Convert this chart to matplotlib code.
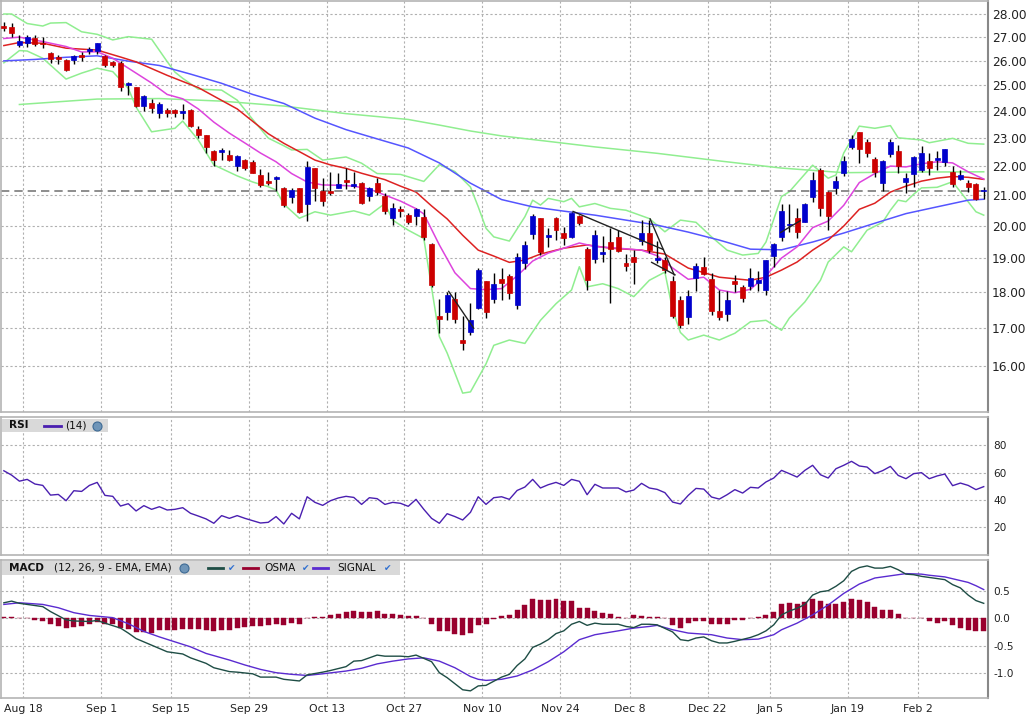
import matplotlib
matplotlib.use("Agg")
import matplotlib.pyplot as plt
from matplotlib.patches import Rectangle
from matplotlib.lines import Line2D
from matplotlib.ticker import FixedLocator, NullLocator

W, H = 1034, 723

# ---------------- data ----------------
date_labels = ["Aug 18", "Sep 1", "Sep 15", "Sep 29", "Oct 13", "Oct 27", "Nov 10",
               "Nov 24", "Dec 8", "Dec 22", "Jan 5", "Jan 19", "Feb 2"]
date_first_bar = [3, 13, 22, 32, 42, 52, 62, 72, 81, 91, 99, 109, 118]

opens = [27.47, 27.42, 26.65, 26.73, 26.94, 26.76, 26.33, 26.17, 26.03, 26.03,
         26.24, 26.41, 26.41, 26.20, 25.96, 25.92, 25.02, 24.92, 24.19, 24.30,
         23.94, 24.03, 24.03, 23.94, 24.03, 23.33, 23.09, 22.52, 22.49, 22.38,
         21.99, 22.20, 22.14, 21.67, 21.47, 21.55, 21.25, 20.93, 21.24, 20.70,
         21.91, 21.14, 21.14, 21.25, 21.50, 21.31, 21.39, 20.97, 21.42, 20.97,
         20.26, 20.53, 20.35, 20.31, 20.27, 19.43, 17.33, 17.44, 17.80, 16.67,
         16.90, 17.55, 18.31, 17.79, 18.39, 18.46, 17.64, 18.86, 19.73, 20.24,
         19.66, 20.24, 19.76, 19.66, 20.32, 19.26, 18.96, 19.11, 19.48, 19.64,
         18.84, 19.02, 19.53, 19.76, 18.95, 18.94, 18.33, 17.78, 17.30, 18.41,
         18.73, 18.38, 17.48, 17.38, 18.33, 18.16, 18.17, 18.26, 18.06, 19.07,
         19.66, 20.02, 20.24, 20.13, 20.92, 21.87, 21.09, 21.22, 21.74, 22.67,
         23.20, 22.83, 22.23, 21.39, 22.40, 22.52, 21.45, 21.71, 21.87, 22.16,
         22.19, 22.14, 21.77, 21.53, 21.41, 21.37, 21.12]
highs = [27.65, 27.60, 27.07, 27.07, 27.07, 26.98, 26.37, 26.24, 26.06, 26.24,
         26.37, 26.57, 26.76, 26.24, 26.00, 25.99, 25.14, 24.94, 24.62, 24.46,
         24.34, 24.10, 24.06, 24.27, 24.07, 23.43, 23.11, 22.56, 22.62, 22.56,
         22.38, 22.24, 22.20, 21.88, 21.77, 21.65, 21.28, 21.22, 21.24, 22.16,
         21.93, 21.59, 21.77, 21.74, 21.93, 21.79, 21.45, 21.28, 21.58, 21.07,
         20.73, 20.65, 20.40, 20.57, 20.53, 19.45, 17.80, 18.00, 18.00, 17.33,
         17.68, 18.69, 18.31, 18.54, 18.71, 18.51, 19.14, 19.53, 20.37, 20.24,
         19.92, 20.27, 19.95, 20.45, 20.34, 19.35, 19.87, 19.68, 19.92, 19.87,
         19.11, 19.24, 20.19, 20.19, 19.53, 19.04, 18.48, 17.88, 18.07, 18.84,
         19.02, 18.54, 18.06, 18.04, 18.49, 18.19, 18.69, 18.61, 18.94, 19.47,
         20.72, 20.70, 20.57, 20.75, 21.80, 21.91, 21.14, 21.63, 22.34, 23.12,
         23.22, 22.94, 22.30, 22.20, 22.95, 22.73, 21.75, 22.34, 22.70, 22.44,
         22.53, 22.60, 21.99, 21.85, 21.52, 21.39, 21.28]
lows = [27.27, 27.00, 26.57, 26.57, 26.61, 26.51, 25.89, 25.86, 25.58, 25.86,
        26.00, 26.27, 26.27, 25.75, 25.75, 24.79, 24.60, 24.14, 24.01, 23.94,
        23.75, 23.79, 23.76, 23.69, 23.39, 23.00, 22.46, 21.99, 22.20, 22.17,
        21.83, 21.86, 21.74, 21.28, 21.34, 21.14, 20.60, 20.75, 20.40, 20.16,
        20.80, 20.64, 21.00, 21.22, 21.20, 21.22, 20.70, 20.80, 21.00, 20.38,
        20.02, 20.27, 20.05, 20.04, 19.55, 18.15, 16.87, 17.22, 17.13, 16.41,
        16.82, 17.51, 17.28, 17.70, 17.77, 17.79, 17.53, 18.66, 19.57, 19.09,
        19.35, 19.55, 19.40, 19.60, 20.03, 18.07, 18.85, 18.89, 17.70, 19.19,
        18.60, 18.24, 19.40, 19.14, 18.84, 18.55, 17.27, 17.00, 17.10, 18.04,
        18.49, 17.36, 17.23, 17.18, 18.00, 17.73, 18.07, 18.04, 17.91, 18.73,
        19.53, 19.81, 19.61, 20.11, 20.77, 20.30, 19.88, 21.04, 21.66, 22.60,
        22.10, 22.32, 21.60, 21.14, 22.30, 21.74, 21.08, 21.28, 21.80, 21.67,
        21.87, 21.99, 21.26, 21.50, 21.11, 20.83, 20.86]
closes = [27.40, 27.18, 26.83, 26.98, 26.69, 26.69, 26.08, 26.08, 25.61, 26.19,
          26.14, 26.48, 26.73, 25.82, 25.80, 24.92, 25.10, 24.19, 24.58, 24.12,
          24.27, 23.94, 23.94, 24.00, 23.42, 23.12, 22.67, 22.20, 22.56, 22.20,
          22.34, 21.91, 21.74, 21.34, 21.40, 21.61, 20.67, 21.16, 20.43, 21.97,
          21.24, 20.80, 21.08, 21.37, 21.44, 21.37, 20.73, 21.22, 21.11, 20.46,
          20.57, 20.48, 20.11, 20.53, 19.64, 18.20, 17.24, 17.91, 17.24, 16.59,
          17.21, 18.64, 17.44, 18.22, 18.25, 17.96, 19.02, 19.40, 20.31, 19.19,
          19.71, 19.88, 19.60, 20.40, 20.10, 18.36, 19.71, 19.19, 19.26, 19.22,
          18.76, 18.89, 19.76, 19.24, 18.99, 18.64, 17.34, 17.07, 17.88, 18.75,
          18.52, 17.46, 17.31, 17.77, 18.22, 17.83, 18.42, 18.36, 18.94, 19.43,
          20.48, 20.07, 19.81, 20.72, 21.50, 20.57, 20.32, 21.47, 22.16, 22.94,
          22.60, 22.44, 21.77, 22.16, 22.85, 22.00, 21.58, 22.30, 22.44, 21.91,
          22.29, 22.60, 21.36, 21.67, 21.28, 20.87, 21.16]
last_price = 21.15

# indicator lines: (bar index, value)
ma_long_blue = [(0, 25.99), (4, 26.05), (8, 26.14), (12, 26.20), (16, 25.98), (20, 25.80),
                (24, 25.45), (28, 25.08), (32, 24.64), (36, 24.29), (40, 23.73), (44, 23.30),
                (48, 22.96), (52, 22.63), (56, 22.10), (60, 21.40), (64, 20.85), (68, 20.61),
                (72, 20.47), (76, 20.34), (80, 20.18), (84, 20.02), (88, 19.80), (92, 19.55),
                (96, 19.27), (100, 19.25), (104, 19.49), (108, 19.77), (112, 20.08),
                (116, 20.39), (120, 20.61), (124, 20.83), (126, 20.86)]
ma_200_green = [(2, 24.25), (12, 24.46), (20, 24.48), (28, 24.38), (36, 24.19), (44, 23.90),
                (52, 23.68), (56, 23.47), (60, 23.25), (64, 23.07), (70, 22.87), (76, 22.67),
                (84, 22.44), (92, 22.17), (100, 21.92), (108, 21.76), (116, 21.78), (126, 21.79)]
ma_mid_red = [(0, 26.63), (2, 26.76), (5, 26.73), (8, 26.52), (12, 26.44), (15, 26.15),
              (17, 25.95), (21, 25.40), (25, 24.91), (30, 24.08), (34, 23.15), (36, 22.80),
              (38, 22.50), (40, 22.20), (42, 22.03), (44, 21.91), (46, 21.74), (49, 21.52),
              (51, 21.30), (53, 21.10), (55, 20.64), (57, 20.22), (59, 19.70), (61, 19.24),
              (63, 19.06), (65, 18.87), (67, 18.94), (69, 19.12), (72, 19.30), (75, 19.40),
              (78, 19.30), (82, 19.24), (85, 19.12), (88, 18.70), (92, 18.43), (96, 18.34),
              (98, 18.43), (100, 18.64), (102, 18.88), (104, 19.24), (106, 19.55),
              (108, 19.99), (110, 20.53), (112, 20.73), (114, 21.10), (116, 21.30),
              (118, 21.47), (120, 21.57), (122, 21.63), (124, 21.60), (126, 21.53)]
ma_short_magenta = [(0, 26.93), (2, 26.99), (5, 26.80), (8, 26.59), (10, 26.36), (12, 26.37),
                    (14, 26.10), (17, 25.49), (19, 25.09), (21, 24.64), (23, 24.47),
                    (25, 24.08), (27, 23.58), (29, 23.17), (31, 22.81), (33, 22.45),
                    (35, 22.14), (37, 21.73), (39, 21.44), (41, 21.34), (43, 21.33),
                    (45, 21.30), (47, 21.20), (49, 21.00), (51, 20.80), (53, 20.55),
                    (54, 20.38), (56, 19.40), (58, 18.56), (60, 18.10), (62, 18.07),
                    (64, 18.10), (66, 18.47), (68, 18.91), (70, 19.15), (72, 19.30),
                    (74, 19.46), (76, 19.35), (79, 19.30), (82, 19.24), (84, 19.07),
                    (86, 18.70), (88, 18.37), (90, 18.43), (92, 18.06), (94, 17.98),
                    (96, 18.08), (98, 18.47), (100, 19.00), (102, 19.34), (104, 19.94),
                    (106, 20.15), (108, 20.66), (110, 21.42), (112, 21.73), (114, 21.99),
                    (116, 21.96), (118, 22.07), (120, 22.14), (122, 22.10), (124, 21.79),
                    (126, 21.54)]
bb_upper = [(0, 28.00), (1, 28.00), (3, 27.58), (5, 27.47), (6, 27.60), (8, 27.62), (10, 27.22),
            (12, 27.11), (14, 26.87), (16, 27.01), (19, 26.90), (21, 25.96), (22, 25.53),
            (23, 25.28), (25, 24.85), (28, 24.81), (30, 24.42), (32, 23.68), (34, 22.99),
            (36, 22.71), (37, 22.56), (39, 22.58), (41, 22.20), (44, 22.31), (46, 22.09),
            (48, 21.73), (51, 21.70), (54, 21.46), (56, 22.04), (58, 21.80), (60, 21.27),
            (61, 20.61), (62, 19.92), (63, 19.65), (65, 19.52), (67, 20.29), (68, 20.83),
            (69, 20.67), (70, 20.89), (72, 20.78), (73, 20.89), (74, 20.61), (76, 20.72),
            (78, 20.56), (80, 20.50), (83, 20.23), (85, 19.81), (87, 20.18), (89, 20.11),
            (91, 19.65), (93, 19.24), (95, 19.09), (97, 19.14), (98, 19.49), (100, 20.95),
            (101, 21.11), (104, 22.02), (106, 21.57), (107, 21.68), (108, 22.45),
            (110, 23.43), (112, 23.35), (114, 23.45), (115, 23.00), (118, 22.92),
            (119, 22.82), (122, 22.98), (124, 22.80), (126, 22.77)]
bb_lower = [(0, 25.91), (2, 26.42), (3, 26.40), (5, 26.10), (8, 25.25), (10, 25.49),
            (12, 25.69), (14, 25.55), (16, 24.88), (17, 24.15), (19, 23.22), (22, 23.35),
            (23, 23.62), (25, 22.92), (27, 22.03), (30, 21.65), (32, 21.44), (34, 21.28),
            (35, 21.17), (36, 20.70), (38, 20.24), (40, 20.45), (42, 20.34), (45, 20.48),
            (47, 20.34), (49, 20.72), (50, 20.18), (52, 19.86), (54, 19.60), (56, 16.77),
            (57, 16.34), (59, 15.33), (60, 15.36), (62, 16.06), (63, 16.54), (65, 16.68),
            (67, 16.59), (69, 17.21), (71, 17.67), (73, 18.06), (74, 18.74), (75, 18.15),
            (77, 18.24), (79, 18.10), (81, 17.87), (83, 18.34), (85, 18.58), (86, 17.49),
            (87, 16.88), (88, 16.68), (90, 16.81), (92, 16.68), (94, 16.86), (96, 17.17),
            (98, 17.21), (100, 16.94), (101, 17.27), (103, 17.72), (105, 18.34),
            (106, 18.88), (108, 19.34), (109, 19.19), (111, 19.86), (113, 20.11),
            (114, 20.50), (115, 20.83), (116, 20.78), (117, 21.03), (118, 21.24),
            (120, 21.26), (122, 21.45), (123, 21.11), (125, 20.45), (126, 20.34)]

# trend lines: (start bar, start price, end bar, end price)
trend_lines = [(57.2, 18.02, 60.4, 17.00),
               (73.2, 20.46, 84.8, 19.26),
               (83.1, 20.22, 86.2, 18.50),
               (83.3, 18.87, 86.3, 18.50),
               (99.9, 19.79, 102.4, 20.16)]

rsi = [61.4, 58.2, 53.8, 55.1, 51.7, 50.7, 43.6, 44.1, 39.5, 46.8,
       46.3, 50.7, 52.9, 43.4, 42.7, 35.6, 37.3, 32.0, 35.9, 33.2,
       35.1, 32.7, 33.2, 34.4, 30.3, 28.3, 26.2, 23.0, 28.6, 26.6,
       28.6, 26.6, 24.9, 23.2, 23.7, 27.9, 22.5, 30.3, 26.2, 42.4,
       38.3, 36.1, 39.5, 41.5, 42.7, 41.9, 36.8, 41.7, 41.0, 36.8,
       38.3, 37.6, 35.4, 40.5, 33.2, 26.6, 23.0, 30.0, 27.9, 25.4,
       31.0, 42.4, 36.8, 41.7, 42.4, 40.5, 47.0, 49.5, 55.1, 48.8,
       51.2, 52.9, 50.7, 55.1, 53.7, 43.9, 51.5, 48.8, 48.8, 48.8,
       45.9, 47.3, 52.2, 48.8, 47.8, 45.4, 38.5, 37.1, 43.4, 48.5,
       48.0, 42.2, 40.7, 43.9, 47.6, 45.1, 49.3, 48.8, 53.2, 56.1,
       61.7, 59.3, 56.8, 61.7, 65.4, 58.5, 56.1, 62.9, 65.4, 68.3,
       64.9, 64.1, 59.3, 61.5, 64.6, 58.0, 55.6, 59.3, 60.0, 55.6,
       57.6, 59.0, 50.5, 52.4, 50.7, 47.6, 49.8]

osma = [0.02, 0.02, 0.0, -0.005, -0.03, -0.06, -0.11, -0.14, -0.18, -0.16,
        -0.14, -0.11, -0.07, -0.10, -0.11, -0.18, -0.20, -0.25, -0.25, -0.26,
        -0.22, -0.22, -0.22, -0.19, -0.19, -0.19, -0.21, -0.24, -0.21, -0.21,
        -0.17, -0.16, -0.14, -0.15, -0.13, -0.11, -0.12, -0.08, -0.10, -0.005,
        0.015, 0.025, 0.055, 0.085, 0.11, 0.13, 0.11, 0.11, 0.13, 0.07,
        0.07, 0.05, 0.035, 0.035, 0.01, -0.10, -0.23, -0.24, -0.29, -0.31,
        -0.27, -0.13, -0.10, -0.01, 0.04, 0.06, 0.15, 0.24, 0.35, 0.33,
        0.33, 0.35, 0.32, 0.32, 0.19, 0.19, 0.13, 0.10, 0.07, 0.025,
        0.012, 0.06, 0.04, 0.025, 0.02, 0.0, -0.12, -0.17, -0.09, -0.05,
        -0.06, -0.11, -0.11, -0.10, -0.04, -0.04, 0.005, 0.02, 0.06, 0.11,
        0.25, 0.28, 0.26, 0.30, 0.35, 0.32, 0.25, 0.26, 0.30, 0.35,
        0.33, 0.29, 0.21, 0.15, 0.15, 0.08, 0.012, 0.0, 0.0, -0.06,
        -0.08, -0.06, -0.13, -0.17, -0.21, -0.24, -0.24]

macd_line = [(0, 0.28), (1, 0.31), (2, 0.27), (3, 0.25), (5, 0.21), (6, 0.12), (8, -0.03),
             (9, -0.05), (11, -0.06), (12, -0.04), (13, -0.09), (15, -0.18), (16, -0.27),
             (17, -0.37), (19, -0.49), (20, -0.55), (21, -0.61), (23, -0.65), (24, -0.72),
             (26, -0.82), (27, -0.90), (29, -0.97), (30, -0.98), (32, -1.01), (33, -1.07),
             (35, -1.07), (36, -1.11), (38, -1.14), (39, -1.03), (41, -0.98), (42, -0.95),
             (44, -0.88), (45, -0.78), (46, -0.77), (48, -0.67), (49, -0.69), (51, -0.69),
             (52, -0.70), (53, -0.67), (55, -0.79), (56, -0.99), (57, -1.08), (59, -1.30),
             (60, -1.32), (61, -1.23), (62, -1.22), (64, -1.07), (65, -1.02), (66, -0.86),
             (67, -0.74), (68, -0.53), (69, -0.47), (70, -0.39), (71, -0.28), (72, -0.23),
             (73, -0.11), (74, -0.06), (75, -0.13), (76, -0.09), (77, -0.11), (79, -0.11),
             (80, -0.15), (81, -0.17), (82, -0.11), (83, -0.11), (84, -0.12), (86, -0.25),
             (87, -0.39), (88, -0.41), (89, -0.36), (90, -0.34), (91, -0.41), (92, -0.45),
             (93, -0.45), (94, -0.42), (96, -0.35), (97, -0.30), (98, -0.23), (99, -0.12),
             (100, 0.06), (101, 0.13), (102, 0.18), (103, 0.25), (104, 0.42), (105, 0.48),
             (106, 0.50), (107, 0.58), (108, 0.68), (109, 0.85), (110, 0.92), (111, 0.95),
             (112, 0.91), (113, 0.91), (114, 0.94), (115, 0.88), (116, 0.80), (117, 0.79),
             (118, 0.76), (120, 0.72), (121, 0.70), (122, 0.61), (123, 0.55), (124, 0.42),
             (125, 0.32), (126, 0.27)]
signal_line = [(0, 0.25), (2, 0.28), (5, 0.25), (7, 0.19), (9, 0.10), (11, 0.05), (14, 0.01),
               (16, -0.10), (18, -0.24), (20, -0.34), (22, -0.43), (24, -0.52), (26, -0.64),
               (29, -0.76), (31, -0.85), (33, -0.93), (35, -0.99), (37, -1.02), (39, -1.04),
               (41, -1.01), (44, -0.96), (46, -0.91), (48, -0.83), (50, -0.78), (52, -0.74),
               (54, -0.72), (56, -0.78), (58, -0.90), (60, -1.06), (61, -1.11), (62, -1.13),
               (64, -1.11), (65, -1.08), (66, -1.05), (68, -0.94), (70, -0.79), (72, -0.61),
               (74, -0.39), (76, -0.30), (79, -0.23), (81, -0.18), (83, -0.15), (84, -0.13),
               (86, -0.21), (88, -0.27), (91, -0.30), (93, -0.36), (95, -0.39), (97, -0.38),
               (99, -0.30), (100, -0.21), (102, -0.09), (104, 0.06), (106, 0.24), (108, 0.45),
               (110, 0.62), (112, 0.73), (115, 0.79), (116, 0.81), (118, 0.80), (119, 0.78),
               (121, 0.75), (124, 0.65), (125, 0.59), (126, 0.52)]

price_ticks = [16, 17, 18, 19, 20, 21, 22, 23, 24, 25, 26, 27, 28]
rsi_ticks = [20, 40, 60, 80]
macd_ticks = [-1.0, -0.5, 0.0, 0.5]

# ---------------- style ----------------
C_UP, C_DN = "#0000cc", "#cc0000"
C_BLUE, C_RED, C_MAG, C_GRN = "#5555ff", "#dd2222", "#dd44dd", "#90ee90"
C_RSI, C_MACD, C_SIG, C_OSMA = "#4a1fb0", "#1e4d45", "#5a2bd0", "#99002e"
GRID = dict(color="#b0b0b0", linestyle=(0, (2, 2)), linewidth=0.8)
X_MIN, X_MAX = -0.368, 126.55

fig = plt.figure(figsize=(W / 100, H / 100), dpi=100)
plt.rcParams["font.family"] = ["DejaVu Sans"]


def fbox(x0, y0, x1, y1):
    return [x0 / W, 1 - y1 / H, (x1 - x0) / W, (y1 - y0) / H]


ax = fig.add_axes(fbox(1, 0.5, 988, 412.3))
ax_rsi = fig.add_axes(fbox(1, 417.3, 988, 555))
ax_m = fig.add_axes(fbox(1, 560, 988, 698.3))

grid_x = [d - 0.5 for d in date_first_bar]
for a in (ax, ax_rsi, ax_m):
    a.set_xlim(X_MIN, X_MAX)
    a.set_xticks(grid_x)
    a.set_facecolor("white")
    for s in ("left", "top", "bottom"):
        a.spines[s].set_color("#b4b4b4")
        a.spines[s].set_linewidth(1.2)
    a.spines["right"].set_color("#888888")
    a.spines["right"].set_linewidth(1.5)
    a.yaxis.tick_right()
    a.tick_params(axis="both", length=0, colors="#222222")
    a.grid(True, **GRID)
    a.set_axisbelow(True)
    if a is not ax_m:
        a.set_xticklabels([])

# ---- main price panel ----
ax.set_yscale("log")
ax.set_ylim(14.87, 28.607)
ax.yaxis.set_major_locator(FixedLocator(price_ticks))
ax.yaxis.set_minor_locator(NullLocator())
ax.set_yticklabels(["%.2f" % v for v in price_ticks], fontsize=8.7)
ax.tick_params(axis="y", pad=3)


def draw_line(a, pts, color, lw=1.1, z=2):
    xs = [p[0] for p in pts]
    ys = [p[1] for p in pts]
    a.plot(xs, ys, color=color, lw=lw, zorder=z, solid_joinstyle="round")


draw_line(ax, ma_200_green, C_GRN)
draw_line(ax, bb_upper, C_GRN)
draw_line(ax, bb_lower, C_GRN)
draw_line(ax, ma_long_blue, C_BLUE)
draw_line(ax, ma_mid_red, C_RED)
draw_line(ax, ma_short_magenta, C_MAG)

ax.axhline(last_price, color="#7a7a7a", lw=1.2, linestyle=(0, (5, 3)), zorder=2.5)

idx = list(range(len(closes)))
ax.vlines(idx, lows, highs, color="black", lw=1.0, zorder=3)
bottoms = [min(o, c) for o, c in zip(opens, closes)]
heights = [max(abs(c - o), 0.04) for o, c in zip(opens, closes)]
cols = [C_UP if c >= o else C_DN for o, c in zip(opens, closes)]
ax.bar(idx, heights, bottom=bottoms, width=0.64, color=cols, edgecolor=cols,
       linewidth=0.5, zorder=4)

for (x0, y0, x1, y1) in trend_lines:
    ax.plot([x0, x1], [y0, y1], color="#222222", lw=1.0, zorder=5)

# ---- RSI panel ----
ax_rsi.set_ylim(-0.2, 100.5)
ax_rsi.set_yticks(rsi_ticks)
ax_rsi.set_yticklabels([str(v) for v in rsi_ticks], fontsize=7.6)
ax_rsi.tick_params(axis="y", pad=4)
ax_rsi.plot(idx, rsi, color=C_RSI, lw=1.0, zorder=3)

# ---- MACD panel ----
ax_m.set_ylim(-1.455, 1.057)
ax_m.set_yticks(macd_ticks)
ax_m.set_yticklabels(["%.1f" % v for v in macd_ticks], fontsize=7.6)
ax_m.tick_params(axis="y", pad=4)
ax_m.bar(idx, osma, width=0.64, color=C_OSMA, edgecolor=C_OSMA, linewidth=0.3, zorder=2)
draw_line(ax_m, signal_line, C_SIG, lw=1.0, z=3)
draw_line(ax_m, macd_line, C_MACD, lw=1.0, z=3)
ax_m.set_xticklabels(date_labels, fontsize=7.8)
ax_m.tick_params(axis="x", pad=4)


# ---- legend boxes ----
def px(x, y):
    return x / W, 1 - y / H


def box(x0, y0, x1, y1):
    fig.patches.append(Rectangle(px(x0, y1), (x1 - x0) / W, (y1 - y0) / H,
                                 transform=fig.transFigure, facecolor="#d9d9d9",
                                 edgecolor="none", zorder=10))


def ftext(x, y, s, **kw):
    fig.text(*px(x, y), s, ha="left", va="center", zorder=11, **kw)


def fline(x0, x1, y, color):
    fig.add_artist(Line2D([x0 / W, x1 / W], [1 - y / H, 1 - y / H], transform=fig.transFigure,
                          color=color, lw=2.0, zorder=11))


def globe(x, y):
    fig.add_artist(Line2D([x / W], [1 - y / H], transform=fig.transFigure, marker="o",
                          ms=6.5, color="#6f95b8", mec="#3d6a94", mew=0.8, zorder=11))


def check(x, y):
    fig.text(*px(x, y), "\u2714", ha="center", va="center", fontsize=6.5,
             color="#2f6fd0", zorder=11)


box(2, 419, 108, 432)
ftext(9, 425.5, "RSI", fontsize=7.6, fontweight="bold", color="#111111")
fline(44, 61, 425.5, C_RSI)
ftext(65, 425.5, "(14)", fontsize=7.6, color="#111111")
globe(97, 425.5)

box(2, 561, 400, 575)
ftext(9, 568, "MACD", fontsize=7.6, fontweight="bold", color="#111111")
ftext(54, 568, "(12, 26, 9 - EMA, EMA)", fontsize=7.6, color="#111111")
globe(184, 568)
fline(208, 223, 568, C_MACD)
check(232, 568.5)
fline(243, 258, 568, C_OSMA)
ftext(264, 568, "OSMA", fontsize=7.6, color="#111111")
check(306, 568.5)
fline(313, 328, 568, C_SIG)
ftext(337, 568, "SIGNAL", fontsize=7.6, color="#111111")
check(388, 568.5)

fig.savefig("out.png", dpi=100, facecolor="white")
